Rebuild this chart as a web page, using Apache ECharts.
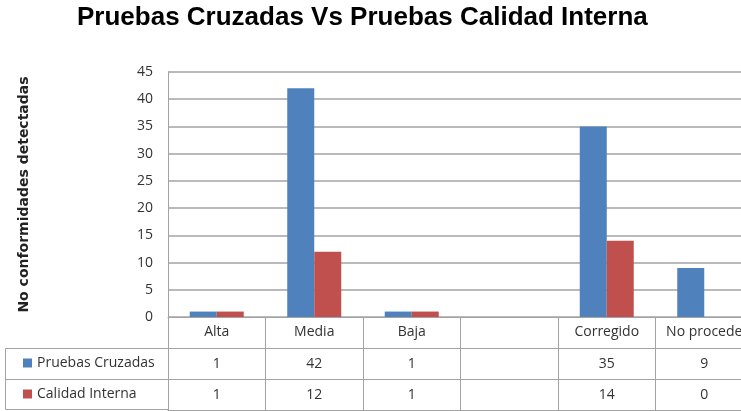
<!DOCTYPE html>
<html>
<head>
<meta charset="utf-8">
<script src="https://cdn.jsdelivr.net/npm/echarts@6/dist/echarts.min.js"></script>
<style>
  html, body { margin: 0; padding: 0; background: #fff; }
  #chart { width: 741px; height: 411px; }
</style>
</head>
<body>
<div id="chart"></div>
<script>
// datos
var categorias = ['Alta', 'Media', 'Baja', '', 'Corregido', 'No procede'];
var pruebasCruzadas = [1, 42, 1, null, 35, 9];
var calidadInterna = [1, 12, 1, null, 14, 0];
var yTicks = { min: 0, max: 45, interval: 5 };

var gris = '#a3a3a3';
var fuente = 'Open Sans';

function filaTabla(valores, offset) {
    return {
        type: 'category',
        position: 'bottom',
        offset: offset,
        data: categorias,
        axisLine: { show: true, lineStyle: { color: gris, width: 1 } },
        axisTick: { show: false },
        axisLabel: {
            show: valores != null,
            interval: 0,
            margin: 9,
            fontFamily: fuente,
            fontSize: 14,
            color: '#333',
            formatter: function (v, i) {
                if (!valores) return '';
                return valores[i] == null ? '' : String(valores[i]);
            }
        }
    };
}

var myChart = echarts.init(document.getElementById('chart'));
var option = {
    backgroundColor: '#fff',
    animation: false,
    title: {
        text: 'Pruebas Cruzadas Vs Pruebas Calidad Interna',
        left: 77,
        top: 5,
        padding: 0,
        textStyle: {
            fontFamily: 'Liberation Sans',
            fontWeight: 'bold',
            fontSize: 26,
            color: '#000'
        }
    },
    legend: {
        orient: 'vertical',
        left: 23,
        top: 355,
        padding: 0,
        icon: 'rect',
        itemWidth: 9,
        itemHeight: 9,
        itemGap: 15,
        itemTextGap: 5,
        selectedMode: false,
        textStyle: { fontFamily: fuente, fontSize: 14, color: '#333', lineHeight: 16 },
        data: ['Pruebas Cruzadas', 'Calidad Interna']
    },
    grid: {
        left: 168,
        width: 585,
        top: 72,
        bottom: 94,
        containLabel: false,
        outerBoundsMode: 'none'
    },
    xAxis: [
        {
            type: 'category',
            position: 'bottom',
            data: categorias,
            axisLine: { show: true, lineStyle: { color: gris, width: 1 } },
            axisTick: { show: true, interval: 0, length: 93, lineStyle: { color: gris, width: 1 } },
            axisLabel: {
                interval: 0,
                margin: 8,
                fontFamily: fuente,
                fontSize: 14,
                color: '#333'
            }
        },
        filaTabla(pruebasCruzadas, 31),
        filaTabla(calidadInterna, 62),
        filaTabla(null, 93)
    ],
    yAxis: [{
        type: 'value',
        min: yTicks.min,
        max: yTicks.max,
        interval: yTicks.interval,
        name: 'No conformidades detectadas',
        nameLocation: 'middle',
        nameRotate: 90,
        nameGap: 137,
        nameTextStyle: {
            fontFamily: 'DejaVu Sans',
            fontWeight: 'bold',
            fontSize: 14,
            color: '#222'
        },
        axisLine: { show: true, lineStyle: { color: gris, width: 1 } },
        axisTick: { show: false },
        axisLabel: {
            margin: 15,
            fontFamily: fuente,
            fontSize: 14,
            color: '#333'
        },
        splitLine: { show: true, lineStyle: { color: gris, width: 1.5 } }
    }],
    graphic: [
        {
            type: 'rect',
            shape: { x: 5.5, y: 348.5, width: 163, height: 61 },
            style: { fill: null, stroke: gris, lineWidth: 1 },
            silent: true
        },
        {
            type: 'line',
            shape: { x1: 5.5, y1: 379.5, x2: 168, y2: 379.5 },
            style: { stroke: gris, lineWidth: 1 },
            silent: true
        }
    ],
    series: [
        {
            name: 'Pruebas Cruzadas',
            type: 'bar',
            barWidth: 27,
            barGap: '0%',
            itemStyle: { color: '#4f81bd' },
            data: pruebasCruzadas
        },
        {
            name: 'Calidad Interna',
            type: 'bar',
            barWidth: 27,
            barGap: '0%',
            itemStyle: { color: '#c0504d' },
            data: calidadInterna
        }
    ]
};
myChart.setOption(option);
</script>
</body>
</html>
